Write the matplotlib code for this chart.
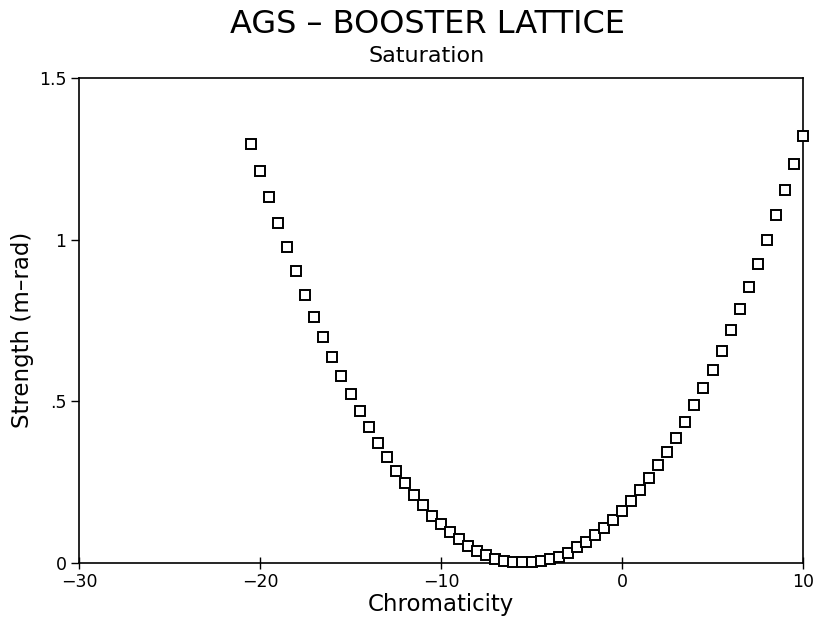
import matplotlib
matplotlib.use("Agg")
import matplotlib.pyplot as plt
from matplotlib.ticker import FixedLocator, FixedFormatter

# valeurs : chromaticite / force de saturation (m-rad)
chroma = [-20.5, -20.0, -19.5, -19.0, -18.5, -18.0, -17.5, -17.0, -16.5, -16.0,
          -15.5, -15.0, -14.5, -14.0, -13.5, -13.0, -12.5, -12.0, -11.5, -11.0,
          -10.5, -10.0, -9.5, -9.0, -8.5, -8.0, -7.5, -7.0, -6.5, -6.0,
          -5.5, -5.0, -4.5, -4.0, -3.5, -3.0, -2.5, -2.0, -1.5, -1.0,
          -0.5, 0.0, 0.5, 1.0, 1.5, 2.0, 2.5, 3.0, 3.5, 4.0,
          4.5, 5.0, 5.5, 6.0, 6.5, 7.0, 7.5, 8.0, 8.5, 9.0,
          9.5, 10.0]
strength = [1.296, 1.212, 1.131, 1.051, 0.976, 0.902, 0.830, 0.762, 0.700, 0.638,
            0.579, 0.524, 0.470, 0.420, 0.372, 0.327, 0.286, 0.246, 0.211, 0.178,
            0.146, 0.122, 0.095, 0.073, 0.054, 0.038, 0.024, 0.013, 0.007, 0.003,
            0.002, 0.003, 0.007, 0.013, 0.020, 0.032, 0.048, 0.066, 0.086, 0.109,
            0.132, 0.160, 0.191, 0.226, 0.262, 0.302, 0.343, 0.388, 0.435, 0.488,
            0.541, 0.597, 0.656, 0.720, 0.785, 0.853, 0.925, 0.998, 1.075, 1.154,
            1.235, 1.320]

xticks = [-30, -20, -10, 0, 10]
xticklabels = ["\u221230", "\u221220", "\u221210", "0", "10"]
yticks = [0, 0.5, 1, 1.5]
yticklabels = ["0", ".5", "1", "1.5"]

plt.rcParams['font.family'] = ['DejaVu Sans']

fig = plt.figure(figsize=(8.14, 6.36), dpi=100)
ax = fig.add_axes([79 / 814, 1 - 563 / 636, (803 - 79) / 814, (563 - 78) / 636])

ax.plot(chroma, strength, linestyle='none', marker='s', markersize=7.5,
        markerfacecolor='white', markeredgecolor='black', markeredgewidth=1.4,
        clip_on=False, zorder=3)

ax.set_xlim(-30, 10)
ax.set_ylim(0, 1.5)
ax.xaxis.set_major_locator(FixedLocator(xticks))
ax.xaxis.set_major_formatter(FixedFormatter(xticklabels))
ax.yaxis.set_major_locator(FixedLocator(yticks))
ax.yaxis.set_major_formatter(FixedFormatter(yticklabels))
ax.tick_params(axis='x', direction='inout', length=9, width=1.0, labelsize=12.5, pad=3)
ax.tick_params(axis='y', direction='out', length=6, width=1.0, labelsize=12.5, pad=3)
for s in ax.spines.values():
    s.set_linewidth(1.2)

ax.set_xlabel("Chromaticity", fontsize=16.5, labelpad=1)
ax.set_ylabel("Strength (m\u2013rad)", fontsize=16.5)
ax.yaxis.set_label_coords(-0.062, 0.48)

fig.text(427 / 814, 1 - 33 / 636, "AGS \u2013 BOOSTER LATTICE", fontsize=23,
         ha='center', va='baseline')
fig.text(427 / 814, 1 - 62 / 636, "Saturation", fontsize=16,
         ha='center', va='baseline')

fig.savefig("out.png", dpi=100, facecolor='white')
